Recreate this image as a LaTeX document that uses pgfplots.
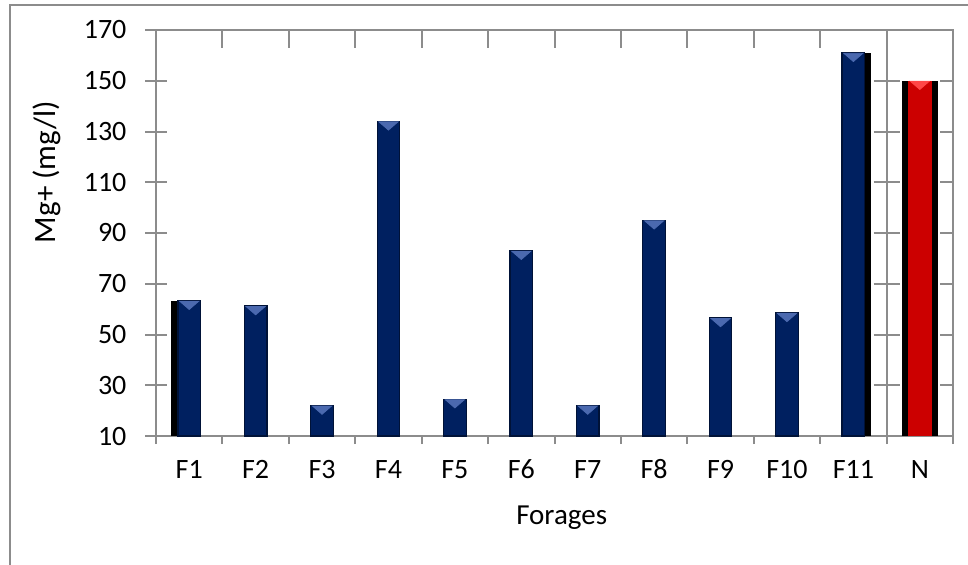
\documentclass[border=0pt]{standalone}
\usepackage{pgfplots}
\pgfplotsset{compat=1.18}
\usepackage{fontspec}
\setmainfont{Carlito}

\definecolor{axgray}{RGB}{140,140,140}
\definecolor{navy}{RGB}{0,32,96}
\definecolor{navyline}{RGB}{0,18,55}
\definecolor{navyhi}{RGB}{75,105,175}
\definecolor{mgred}{RGB}{204,0,0}
\definecolor{redhi}{RGB}{255,70,70}

\begin{document}
\begin{tikzpicture}
\begin{axis}[
    scale only axis,
    width=398.5pt, height=203pt,
    xmin=-0.5, xmax=11.5,
    ymin=10, ymax=170,
    ytick={10,30,...,170},
    xtick={0,...,11},
    xticklabels={F1,F2,F3,F4,F5,F6,F7,F8,F9,F10,F11,N},
    major x tick style={draw=none},
    minor xtick={-0.5,0.5,...,11.5},
    xtick pos=left, ytick pos=left,
    xtick align=outside, ytick align=center,
    major tick length=10.5pt, minor tick length=4pt,
    every tick/.style={axgray, line width=1pt},
    axis line style={axgray, line width=1pt},
    tick label style={font=\fontsize{14}{16}\selectfont},
    /pgf/number format/assume math mode=true,
    xticklabel style={anchor=base, yshift=-10.5pt},
    yticklabel style={anchor=east, xshift=-6pt},
    xlabel={Forages}, ylabel={Mg+ (mg/l)},
    xlabel style={font=\fontsize{14.5}{16}\selectfont, at={(axis description cs:0.509,-0.2)}, anchor=center},
    ylabel style={font=\fontsize{15.5}{17}\selectfont, at={(axis description cs:-0.137,0.65)}, anchor=center},
    bar shift=0pt,
    clip=true,
]
% extra ticks: top inward, right inward, divider before N
\pgfplotsinvokeforeach{0.5,1.5,...,9.5}{
  \draw[axgray, line width=1pt] (axis cs:#1,170) -- ([yshift=-9pt]axis cs:#1,170);
}
\draw[axgray, line width=1pt] (axis cs:10.5,10) -- (axis cs:10.5,170);
\pgfplotsinvokeforeach{30,50,...,150}{
  \draw[axgray, line width=1pt] ([xshift=-6.5pt]axis cs:10.5,#1) -- ([xshift=6.5pt]axis cs:10.5,#1);
  \draw[axgray, line width=1pt] (axis cs:11.5,#1) -- ([xshift=-6.5pt]axis cs:11.5,#1);
}

% shadows
\addplot[ybar, bar width=14pt, bar shift=-2pt, fill=black, draw=none] coordinates {(0,63.3)};
\addplot[ybar, bar width=14pt, bar shift=1.9pt, fill=black, draw=none] coordinates {(10,161)};
\addplot[ybar, bar width=18pt, fill=black, draw=none] coordinates {(11,150)};

% Forages
\addplot[ybar, bar width=11.3pt, fill=navy, draw=navyline, line width=0.6pt]
  coordinates {(0,63.3) (1,61.2) (2,22) (3,134) (4,24.5) (5,83) (6,22)
               (7,95) (8,56.5) (9,58.5) (10,161)};
\addplot[only marks, mark=triangle*, mark size=5.5pt, color=navyhi,
  mark options={yshift=-1.6pt, rotate=180, yscale=0.5, draw=none}]
  coordinates {(0,63.3) (1,61.2) (2,22) (3,134) (4,24.5) (5,83) (6,22)
               (7,95) (8,56.5) (9,58.5) (10,161)};

% Norme
\addplot[ybar, bar width=12pt, fill=mgred, draw=none] coordinates {(11,150)};
\addplot[only marks, mark=triangle*, mark size=5.5pt, color=redhi,
  mark options={yshift=-1.6pt, rotate=180, yscale=0.5, draw=none}]
  coordinates {(11,150)};
\end{axis}
\draw[axgray, line width=1pt] (-73pt,-80pt) -- (-73pt,215.5pt) -- (420pt,215.5pt);
\pgfresetboundingbox
\useasboundingbox (-78pt,-64pt) rectangle (406pt,218pt);
\end{tikzpicture}
\end{document}
